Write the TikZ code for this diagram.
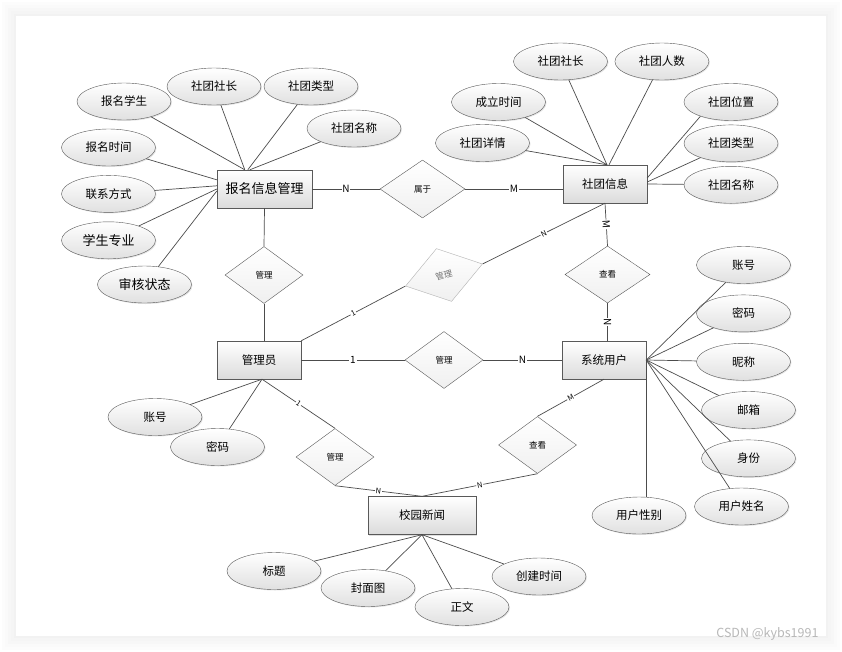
\documentclass[tikz,border=0pt]{standalone}
\usepackage{fontspec}
\setmainfont{Noto Sans CJK SC}
\usetikzlibrary{shapes.geometric, positioning, shadows}

\begin{document}
\begin{tikzpicture}[
    x=1pt, y=-1pt,
    line/.style={draw=black!70, line width=0.7pt},
    entity/.style={rectangle, draw=black!65, top color=white, bottom color=black!14, minimum width=84pt, minimum height=38pt, inner sep=2pt, font=\fontsize{11.5}{12}\selectfont, drop shadow={opacity=0.25, shadow xshift=1.2pt, shadow yshift=-1.2pt}},
    attr/.style={ellipse, draw=black!65, top color=white, bottom color=black!12, minimum width=94pt, minimum height=37pt, inner sep=0pt, font=\fontsize{11.5}{12}\selectfont, drop shadow={opacity=0.2, shadow xshift=1pt, shadow yshift=-1pt}},
    rel/.style={diamond, draw=black!65, top color=white, bottom color=black!6, minimum width=78pt, minimum height=57pt, inner sep=0pt, font=\fontsize{8.5}{9}\selectfont},
    card/.style={midway, sloped, fill=white, inner sep=0.8pt, font=\fontsize{10}{10}\selectfont},
    cards/.style={card, font=\fontsize{7.5}{8}\selectfont}
]

\useasboundingbox (0,0) rectangle (842,651);
\fill[white] (0,0) rectangle (842,651);
\foreach \d/\g in {14/1,11/2,8/3,5/4,2/5}
    \fill[black!\g] (16-\d,16-\d) rectangle (826+\d,636+\d);
\fill[white] (16,16) rectangle (826,636);

\node[entity, minimum width=95pt, font=\fontsize{13}{14}\selectfont] (bm) at (264.5,189) {报名信息管理};
\node[entity] (st) at (605,184) {社团信息};
\node[entity] (gly) at (259,360) {管理员};
\node[entity] (sys) at (604,360) {系统用户};
\node[entity, minimum width=108pt] (news) at (422,515.5) {校园新闻};

\node[rel, minimum width=85pt, minimum height=58pt] (sy) at (422.5,189) {属于};
\node[rel] (gl1) at (264,275) {管理};
\node[rel, minimum width=85pt] (ck1) at (607.5,274.5) {查看};
\node[rel] (gl2) at (444,360) {管理};
\node[rel] (gl3) at (335,457) {管理};
\node[rel] (ck2) at (537.5,445) {查看};
\node[rel, rotate=16, draw=black!30, text=black!55, minimum width=80pt, minimum height=55pt] (glr) at (444,275) {管理};

\node[attr] (bmxs) at (124,101.5) {报名学生};
\node[attr] (bmsz) at (214,86.5) {社团社长};
\node[attr] (bmlx) at (311,86.5) {社团类型};
\node[attr] (bmmc) at (354,128.5) {社团名称};
\node[attr] (bmsj) at (108.5,147.5) {报名时间};
\node[attr, below=9pt of bmsj] (bmfs) {联系方式};
\node[attr, below=9pt of bmfs, font=\fontsize{13}{14}\selectfont] (bmzy) {学生专业};
\node[attr, font=\fontsize{13}{14}\selectfont] (bmzt) at (144.5,284.5) {审核状态};

\node[attr] (stsz) at (560.5,61.5) {社团社长};
\node[attr, right=7pt of stsz] (strs) {社团人数};
\node[attr] (stsj) at (498.5,102) {成立时间};
\node[attr] (stxq) at (482.5,143) {社团详情};
\node[attr] (stwz) at (731,102) {社团位置};
\node[attr, below=4pt of stwz] (stlx) {社团类型};
\node[attr, below=4pt of stlx] (stmc) {社团名称};

\node[attr] (zh) at (743.5,265) {账号};
\node[attr, below=11pt of zh] (mm) {密码};
\node[attr, below=11pt of mm] (nc) {昵称};
\node[attr] (yx) at (748.5,410) {邮箱};
\node[attr, below=11pt of yx] (sf) {身份};
\node[attr] (xm) at (741.5,506.5) {用户姓名};
\node[attr] (xb) at (639,515.5) {用户性别};

\node[attr] (glzh) at (155,417) {账号};
\node[attr] (glmm) at (217.5,447) {密码};

\node[attr] (bt) at (274,571) {标题};
\node[attr] (fm) at (368,588) {封面图};
\node[attr] (zw) at (462,607) {正文};
\node[attr] (cj) at (539,576.5) {创建时间};

\node[anchor=east, text=black!28, font=\fontsize{12.5}{12}\selectfont] (mark) at (822,634) {CSDN @kybs1991};

\draw[line] (bmxs) -- ([xshift=28pt]bm.north west);
\draw[line] (bmsz) -- ([xshift=28pt]bm.north west);
\draw[line] (bmlx) -- ([xshift=31pt]bm.north west);
\draw[line] (bmmc) -- ([xshift=33pt]bm.north west);
\draw[line] (bmsj) -- ([yshift=-10pt]bm.north west);
\draw[line] (bmfs) -- ([yshift=-16pt]bm.north west);
\draw[line] (bmzy) -- (bm.west);
\draw[line] (bmzt) -- ([yshift=-2pt]bm.west);

\draw[line] (stsz) -- ([xshift=2pt]st.north);
\draw[line] (strs) -- ([xshift=4pt]st.north);
\draw[line] (stsj) -- ([xshift=2pt]st.north);
\draw[line] (stxq) -- ([xshift=2pt]st.north);
\draw[line] (stwz.205) -- ([yshift=6pt]st.east);
\draw[line] (stlx.205) -- ([yshift=2pt]st.east);
\draw[line] (stmc) -- (st.east);

\draw[line] (zh) -- (sys.east);
\draw[line] (mm) -- (sys.east);
\draw[line] (nc) -- (sys.east);
\draw[line] (yx) -- (sys.east);
\draw[line] (sf) -- (sys.east);
\draw[line] (xm) -- (sys.east);
\draw[line] (sys.east) -- (sys.east |- xb.north);

\draw[line] (glzh) -- ([xshift=3pt]gly.south);
\draw[line] (glmm) -- ([xshift=3pt]gly.south);

\draw[line] (bt) -- (news.south);
\draw[line] (fm) -- (news.south);
\draw[line] (zw) -- (news.south);
\draw[line] (cj) -- (news.south);

\draw[line] (bm.east) -- node[card] {N} (sy.west);
\draw[line] (sy.east) -- node[card] {M} (sy.east -| st.west);
\draw[line] (bm.south) -- (gl1.north);
\draw[line] (gl1.south) -- (gl1.south |- gly.north);
\draw[line] (gly.north east) -- node[cards] {1} (glr.west);
\draw[line] (glr.east) -- node[cards] {N} (st.south);
\draw[line] (st.south) -- node[card] {M} (ck1.north);
\draw[line] (ck1.south) -- node[card] {N} (ck1.south |- sys.north);
\draw[line] (gly.east) -- node[card] {1} (gl2.west);
\draw[line] (gl2.east) -- node[card] {N} (sys.west);
\draw[line] ([xshift=3pt]gly.south) -- node[cards] {1} (gl3.north);
\draw[line] (gl3.south) -- node[cards] {N} (news.north);
\draw[line] (sys.south) -- node[cards] {M} (ck2.north);
\draw[line] (ck2.south) -- node[cards] {N} (news.north);

\end{tikzpicture}
\end{document}
